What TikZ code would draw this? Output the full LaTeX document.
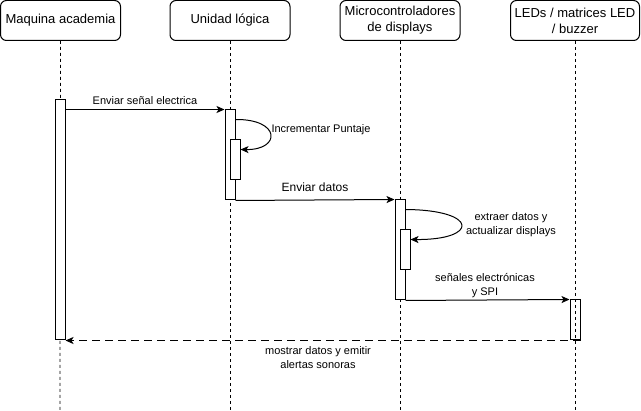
\documentclass[tikz,border=0pt]{standalone}
\usepackage{fontspec}
\setmainfont{Liberation Sans}
\usetikzlibrary{arrows.meta}

\begin{document}
\begin{tikzpicture}[x=1pt,y=-1pt,line width=1pt,
  head/.style={draw,rounded corners=6pt,fill=white,minimum height=40pt,
    inner sep=0pt,align=center,font=\fontsize{13}{16}\selectfont},
  life/.style={dash pattern=on 3pt off 3pt,line width=0.8pt},
  bar/.style={draw,fill=white,minimum width=10pt,inner sep=0pt},
  msg/.style={-{Stealth[length=8pt,width=7pt,inset=2pt]}},
  ret/.style={msg,dash pattern=on 8pt off 5pt},
  lbl/.style={font=\fontsize{11}{14}\selectfont,align=center,inner sep=0pt}]
\useasboundingbox (0,0) rectangle (641,411);

% participants
\node[head,minimum width=120pt] (h1) at (60.5,20.5) {Maquina academia};
\node[head,minimum width=120pt] (h2) at (230,20.5) {Unidad lógica};
\node[head,minimum width=120pt] (h3) at (400,20.5) {Microcontroladores\\de displays};
\node[head,minimum width=129pt] (h4) at (575,20.5) {LEDs / matrices LED\\/ buzzer};

% lifelines
\coordinate (e1) at (60,411);
\coordinate (e2) at (230,411);
\coordinate (e3) at (400,411);
\coordinate (e4) at (575,411);
\draw[life] (h1.south) -- (e1);
\draw[life] (h2.south) -- (e2);
\draw[life] (h3.south) -- (e3);

% activation bars
\node[bar,minimum height=240pt] (a1) at (60,220) {};
\node[bar,minimum height=90pt] (a2) at (230,155) {};
\node[bar,minimum height=40pt] (a2b) at (235,160) {};
\node[bar,minimum height=100pt] (a3) at (400,250) {};
\node[bar,minimum height=40pt] (a3b) at (405,250) {};
\node[bar,minimum height=40pt] (a4) at (575,320) {};

% the last lifeline runs over its bar
\draw[life] (h4.south) -- (e4);

% messages
\draw[msg] ([yshift=-10pt]a1.north east) -- (a2.north west)
  node[lbl,midway,above=4pt] {Enviar señal electrica};
\draw[msg] ([yshift=-10pt]a2.north east) .. controls (281,119) and (281,150) .. ([yshift=-10pt]a2b.north east);
\node[lbl,anchor=west] (t1) at (271,130) {Incrementar Puntaje};

\draw[msg] (a2.south east) -- (a3.north west)
  node[midway,above=8pt,inner sep=0pt,font=\fontsize{12}{14}\selectfont] {Enviar datos};
\draw[msg] ([yshift=-10pt]a3.north east) .. controls (479,210) and (479,240) .. ([yshift=-10pt]a3b.north east);
\node[lbl] (t2) at (511,225) {extraer datos y\\actualizar displays};

\draw[msg] (a3.south east) -- (a4.north west);
\node[lbl] (t3) at (485,286) {señales electrónicas\\y SPI};

\draw[ret] (a4.south east) -- (a1.south east);
\node[lbl] (t4) at (318,358) {mostrar datos y emitir\\alertas sonoras};
\end{tikzpicture}
\end{document}
